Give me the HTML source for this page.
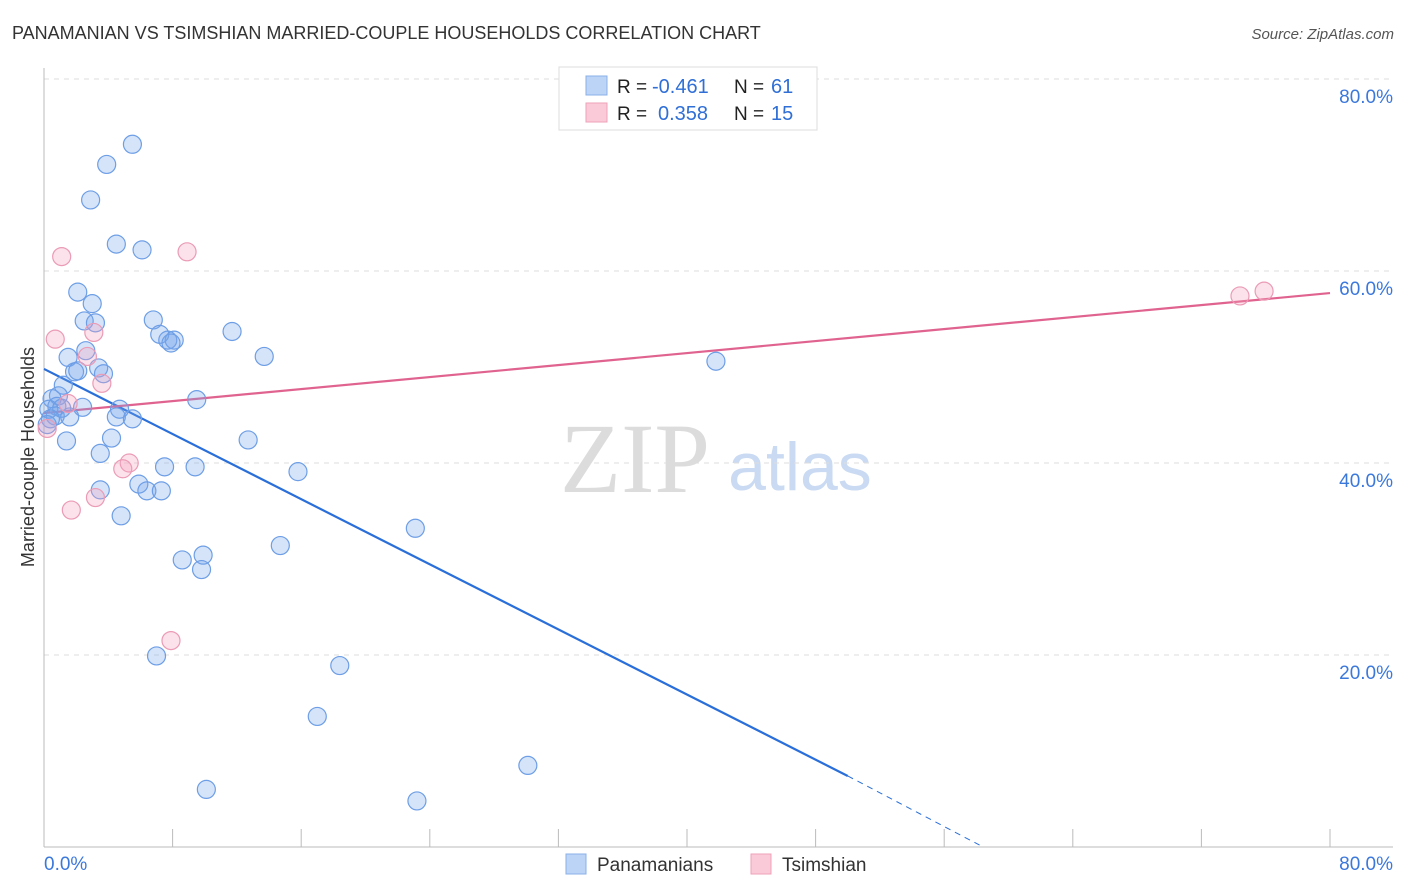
<!DOCTYPE html>
<html><head><meta charset="utf-8">
<style>
body{margin:0;background:#fff;font-family:"Liberation Sans",sans-serif;}
svg{display:block}
</style></head>
<body>
<svg id="chart" width="1406" height="892">
<text x="12" y="39" font-size="18" fill="#333">PANAMANIAN VS TSIMSHIAN MARRIED-COUPLE HOUSEHOLDS CORRELATION CHART</text>
<text x="1394" y="39" font-size="15" fill="#555" font-style="italic" text-anchor="end">Source: ZipAtlas.com</text>
<text x="635" y="492" font-size="100" fill="#dcdcdc" font-family="Liberation Serif,serif" text-anchor="middle">ZIP</text>
<text x="800" y="490" font-size="68" fill="#c9daf2" text-anchor="middle">atlas</text>
<text transform="translate(34,457) rotate(-90)" font-size="18" fill="#333" text-anchor="middle">Married-couple Households</text>
<g id="grid"></g>
<g id="axes"></g>
<g id="lines"></g>
<g id="points"></g>
<g>
<rect x="559" y="67" width="258" height="63" fill="#fff" stroke="#ddd"/>
<rect x="586" y="76" width="21" height="19" fill="#bcd5f7" stroke="#8ab0e8"/>
<rect x="586" y="103" width="21" height="19" fill="#fbcad8" stroke="#eca3b9"/>
<text x="617" y="93" font-size="19" fill="#222">R = </text><text x="652" y="93" font-size="20" fill="#2f6fd6">-0.461</text>
<text x="734" y="93" font-size="19" fill="#222">N = </text><text x="771" y="93" font-size="20" fill="#2f6fd6">61</text>
<text x="617" y="120" font-size="19" fill="#222">R = </text><text x="658" y="120" font-size="20" fill="#2f6fd6">0.358</text>
<text x="734" y="120" font-size="19" fill="#222">N = </text><text x="771" y="120" font-size="20" fill="#2f6fd6">15</text>
</g>
<g>
<rect x="566" y="854" width="20" height="20" fill="#bcd5f7" stroke="#8ab0e8"/>
<text x="597" y="871" font-size="19" fill="#333">Panamanians</text>
<rect x="751" y="854" width="20" height="20" fill="#fbcad8" stroke="#eca3b9"/>
<text x="782" y="871" font-size="19" fill="#333">Tsimshian</text>
</g>
</svg>
<script>
const yTicks=[20,40,60,80];
const yTickLabels=["20.0%","40.0%","60.0%","80.0%"];
const xTicks=[0,8,16,24,32,40,48,56,64,72,80];
const xLabels=["0.0%","80.0%"];
const panX=[5.5,3.9,2.9,4.5,6.1,2.1,3.0,2.5,3.2,6.8,7.2,7.7,8.1,7.9,11.7,13.7,2.6,1.5,3.4,1.9,2.1,3.7,1.2,0.9,0.5,0.8,0.3,1.1,0.7,1.6,0.4,2.4,4.7,4.5,5.5,9.5,4.2,1.4,12.7,3.5,7.5,9.4,15.8,3.5,5.9,6.4,7.3,4.8,23.1,14.7,8.6,9.9,9.8,7.0,18.4,17.0,30.1,10.1,23.2,41.8,0.2];
const panY=[73.2,71.1,67.4,62.8,62.2,57.8,56.6,54.8,54.6,54.9,53.4,52.8,52.8,52.5,53.7,51.1,51.7,51.0,49.9,49.5,49.6,49.3,48.1,47.0,46.7,45.9,45.6,45.7,44.9,44.8,44.6,45.8,45.6,44.8,44.6,46.6,42.6,42.3,42.4,41.0,39.6,39.6,39.1,37.2,37.8,37.1,37.1,34.5,33.2,31.4,29.9,30.4,28.9,19.9,18.9,13.6,8.5,6.0,4.8,50.6,44.0];
const tsiX=[1.1,8.9,0.7,3.1,2.7,3.6,1.5,0.2,5.3,4.9,3.2,1.7,7.9,74.4,75.9];
const tsiY=[61.5,62.0,52.9,53.6,51.1,48.3,46.2,43.6,40.0,39.4,36.4,35.1,21.5,57.4,57.9];
const blueLine=[[0,49.8],[50.0,7.4]];
const blueDash=[[50.0,7.4],[58.2,0.2]];
const pinkLine=[[0,45.2],[80,57.7]];
const NS="http://www.w3.org/2000/svg";
const X=v=>44+v*16.075, Y=v=>847-v*9.6;
function mk(tag,attrs,parent){const e=document.createElementNS(NS,tag);for(const k in attrs)e.setAttribute(k,attrs[k]);parent.appendChild(e);return e;}
const grid=document.getElementById('grid'),axes=document.getElementById('axes'),lines=document.getElementById('lines'),pts=document.getElementById('points');
yTicks.forEach((t,i)=>{
 const g=mk('line',{x1:44,x2:1393,y1:Y(t),y2:Y(t),stroke:'#ddd','stroke-dasharray':'5,5'},grid);
 
 
 const l=mk('text',{x:1393,y:Y(t)+24,'font-size':19,fill:'#3b78dc','text-anchor':'end'},axes);
 l.textContent=yTickLabels[i];
 
 
});
const ax=mk('line',{x1:44,x2:44,y1:68,y2:847,stroke:'#bbb'},axes);


const bx=mk('line',{x1:44,x2:1393,y1:847,y2:847,stroke:'#bbb'},axes);


xTicks.forEach(t=>{
 const tk=mk('line',{x1:X(t),x2:X(t),y1:829,y2:847,stroke:'#bbb'},axes);
 
 
});
const xl0=mk('text',{x:44,y:870,'font-size':19,fill:'#3b78dc'},axes);xl0.textContent=xLabels[0];


const xl1=mk('text',{x:1393,y:870,'font-size':19,fill:'#3b78dc','text-anchor':'end'},axes);xl1.textContent=xLabels[1];


panX.forEach((v,i)=>{
 const c=mk('circle',{cx:X(v),cy:Y(panY[i]),r:9,fill:'rgba(120,165,235,0.3)',stroke:'#6d9ee6','stroke-width':1.2},pts);
 
 
});
tsiX.forEach((v,i)=>{
 const c=mk('circle',{cx:X(v),cy:Y(tsiY[i]),r:9,fill:'rgba(245,160,190,0.3)',stroke:'#eb9bb5','stroke-width':1.2},pts);
 
 
});
const bl=mk('line',{x1:X(blueLine[0][0]),y1:Y(blueLine[0][1]),x2:X(blueLine[1][0]),y2:Y(blueLine[1][1]),stroke:'#2a6fd9','stroke-width':2.2},lines);


const bd=mk('line',{x1:X(blueDash[0][0]),y1:Y(blueDash[0][1]),x2:X(blueDash[1][0]),y2:Y(blueDash[1][1]),stroke:'#2a6fd9','stroke-width':1,'stroke-dasharray':'6,5'},lines);


const pl=mk('line',{x1:X(pinkLine[0][0]),y1:Y(pinkLine[0][1]),x2:X(pinkLine[1][0]),y2:Y(pinkLine[1][1]),stroke:'#e0638f','stroke-width':2.2},lines);


</script>
</body></html>
